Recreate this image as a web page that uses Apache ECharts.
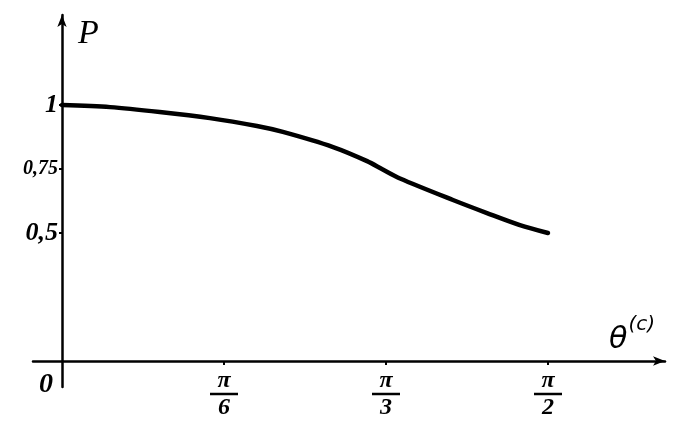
<!DOCTYPE html>
<html><head><meta charset="utf-8">
<script src="https://cdn.jsdelivr.net/npm/echarts@6/dist/echarts.min.js"></script>
<style>html,body{margin:0;padding:0;background:#fff}#c{width:675px;height:431px}</style>
</head><body><div id="c"></div>
<script>
// theta in degrees, P values
const theta = [0, 8.9, 18.1, 27.4, 36.1, 40.9, 50.2, 56.5, 59.4, 62.6, 72.4, 78.7, 84.8, 90];
const pValues = [1.0, 0.992, 0.973, 0.949, 0.918, 0.895, 0.836, 0.781, 0.748, 0.713, 0.629, 0.578, 0.531, 0.5];
const xTickValues = [0, 30, 60, 90];
const xTickDen = {30: '6', 60: '3', 90: '2'};
const yTickValues = [0.5, 0.75, 1];
const yTickLabels = {0.5: '{a|0,5}', 0.75: '{b|0,75}', 1: '{a|1}'};

const chart = echarts.init(document.getElementById('c'));
const serif = '"Liberation Serif", "DejaVu Serif", serif';
const X_MIN = -5.37, X_MAX = 111.67, Y_MIN = -0.1016, Y_MAX = 1.352;
chart.setOption({
  animation: false,
  backgroundColor: '#fff',
  grid: [
    {left: 33, right: 10, top: 15, bottom: 44, containLabel: false, outerBoundsMode: 'none'},
    {left: 62, right: 10, top: 15, bottom: 70, containLabel: false, outerBoundsMode: 'none'}
  ],
  xAxis: [{
    gridIndex: 0, type: 'value', min: X_MIN, max: X_MAX,
    name: '{t|θ}{s|(c)}',
    nameLocation: 'end', nameGap: -10,
    nameTextStyle: {
      align: 'right', verticalAlign: 'bottom', padding: [0, 0, 6, 0],
      rich: {
        t: {fontFamily: '"DejaVu Sans", sans-serif', fontStyle: 'italic', fontSize: 30, color: '#000', verticalAlign: 'bottom'},
        s: {fontFamily: '"DejaVu Sans", sans-serif', fontStyle: 'italic', fontSize: 20, color: '#000', padding: [0, 0, 20, 1]}
      }
    },
    axisLine: {onZero: true, symbol: ['none', 'arrow'], symbolSize: [7, 12], lineStyle: {color: '#000', width: 2.5}},
    axisTick: {show: false}, axisLabel: {show: false}, splitLine: {show: false}
  }, {
    gridIndex: 1, type: 'value', min: 0, max: X_MAX,
    axisLine: {show: false},
    axisTick: {show: true, customValues: [30, 60, 90], length: 4, inside: false, lineStyle: {color: '#000', width: 2}},
    splitLine: {show: false},
    axisLabel: {
      customValues: xTickValues, margin: 10,
      formatter: v => v === 0 ? '{z|0}' : '{n|π}\n{b|}\n{d|' + xTickDen[v] + '}',
      rich: {
        z: {fontFamily: serif, fontStyle: 'italic', fontWeight: 'bold', fontSize: 28, color: '#000', padding: [0, 32, 0, 0]},
        n: {fontFamily: serif, fontStyle: 'italic', fontWeight: 'bold', fontSize: 24, color: '#000', lineHeight: 20, align: 'center'},
        b: {width: 28, height: 2.5, lineHeight: 6, backgroundColor: '#000', align: 'center'},
        d: {fontFamily: serif, fontStyle: 'italic', fontWeight: 'bold', fontSize: 24, color: '#000', lineHeight: 22, align: 'center'}
      }
    }
  }],
  yAxis: [{
    gridIndex: 0, type: 'value', min: Y_MIN, max: Y_MAX,
    name: 'P',
    nameLocation: 'end', nameGap: -36,
    nameTextStyle: {fontFamily: serif, fontStyle: 'italic', fontSize: 34, color: '#000', align: 'left', padding: [0, 0, 0, 16]},
    axisLine: {onZero: true, symbol: ['none', 'arrow'], symbolSize: [7, 12], lineStyle: {color: '#000', width: 2.5}},
    axisTick: {show: false}, axisLabel: {show: false}, splitLine: {show: false}
  }, {
    gridIndex: 1, type: 'value', min: 0, max: Y_MAX,
    axisLine: {show: false},
    axisTick: {show: true, customValues: yTickValues, length: 3, lineStyle: {color: '#000', width: 2}},
    splitLine: {show: false},
    axisLabel: {
      customValues: yTickValues, margin: 4,
      formatter: v => yTickLabels[v],
      rich: {
        a: {fontFamily: serif, fontStyle: 'italic', fontWeight: 'bold', fontSize: 26, color: '#000'},
        b: {fontFamily: serif, fontStyle: 'italic', fontWeight: 'bold', fontSize: 20, color: '#000'}
      }
    }
  }],
  series: [{
    type: 'line', xAxisIndex: 1, yAxisIndex: 1, smooth: 0.3, symbol: 'none',
    data: theta.map((t, i) => [t, pValues[i]]),
    lineStyle: {color: '#000', width: 4.5, cap: 'round'}
  }]
});
</script></body></html>
